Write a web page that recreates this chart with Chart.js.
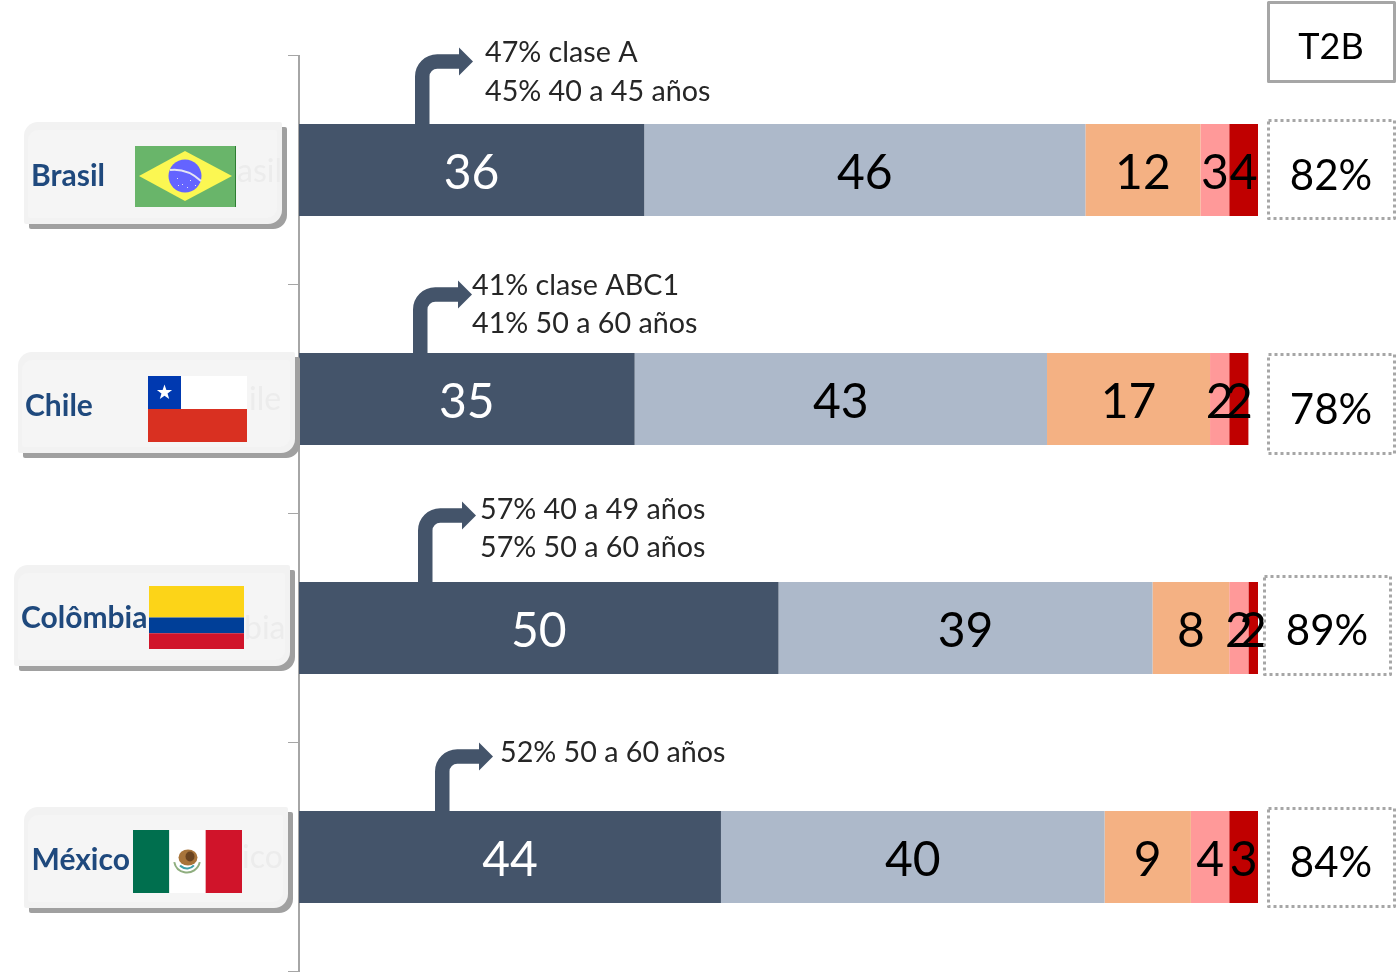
<!DOCTYPE html>
<html>
<head>
<meta charset="utf-8">
<style>html,body{margin:0;padding:0;background:#fff;overflow:hidden}canvas{display:block}</style>
<script src="https://cdn.jsdelivr.net/npm/chart.js@4"></script>
</head>
<body>
<canvas id="c" width="1396" height="972"></canvas>
<script>
// ---- data ----
const countries = ['Brasil', 'Chile', 'Colômbia', 'México'];
const seriesA = [36, 35, 50, 44];
const seriesB = [46, 43, 39, 40];
const seriesC = [12, 17, 8, 9];
const seriesD = [3, 2, 2, 4];
const seriesE = [3, 2, 1, 3];
const labelsA = ['36', '35', '50', '44'];
const labelsB = ['46', '43', '39', '40'];
const labelsC = ['12', '17', '8', '9'];
const labelsD = ['3', '2', '2', '4'];
const labelsE = ['4', '2', '2', '3'];
const t2bTitle = 'T2B';
const t2bValues = ['82%', '78%', '89%', '84%'];
const notes = [
  ['47% clase A', '45% 40 a 45 años'],
  ['41% clase ABC1', '41% 50 a 60 años'],
  ['57% 40 a 49 años', '57% 50 a 60 años'],
  ['52% 50 a 60 años']
];
const ghostText = ['asil', 'ile', 'bia', 'ico'];

// ---- layout and style of the decorations ----
const colors = ['#44546a', '#adb9ca', '#f4b183', '#ff9999', '#c00000'];
const textColors = ['#ffffff', '#000000', '#000000', '#000000', '#000000'];
const FONT = 'Lato, Carlito, Calibri, sans-serif';
const cardBoxes = [
  {x:24,y:122,w:258,h:102,tx:31,ty:186,gx:237,gy:182,flag:[135,146,101,61]},
  {x:18,y:352,w:277,h:101,tx:25,ty:416,gx:249,gy:410,flag:[148,376,99,66]},
  {x:14,y:565,w:276,h:101,tx:21,ty:628,gx:244,gy:639,flag:[149,586,95,63]},
  {x:24,y:807,w:264,h:101,tx:31.5,ty:870,gx:242,gy:868,flag:[133,830,109,63]}
];
const arrowBoxes = [
  {x:415,y:61.5,tip:473,tx:485,ty:[62,101]},
  {x:413,y:294.5,tip:472,tx:472,ty:[295,333]},
  {x:418,y:515.5,tip:476,tx:480,ty:[519,557]},
  {x:435,y:756.5,tip:493,tx:500,ty:[762]}
];
const t2bBoxes = [
  {x:1268.5,y:120.5,w:126,h:98,cx:1331,by:189.5},
  {x:1268.5,y:354.5,w:126,h:99,cx:1331,by:424},
  {x:1264.5,y:576.5,w:126,h:98,cx:1327,by:645},
  {x:1268.5,y:808.5,w:126,h:98,cx:1331,by:877}
];

function drawStar(ctx, cx, cy, r) {
  ctx.beginPath();
  for (let i = 0; i < 10; i++) {
    const a = -Math.PI / 2 + i * Math.PI / 5;
    const q = i % 2 ? r * 0.4 : r;
    ctx.lineTo(cx + q * Math.cos(a), cy + q * Math.sin(a));
  }
  ctx.closePath();
  ctx.fill();
}
function flagBrazil(ctx, x, y, w, h) {
  ctx.fillStyle = '#69b56a'; ctx.fillRect(x, y, w, h);
  ctx.fillStyle = '#2e7d32'; ctx.fillRect(x + w - 1, y, 1, h);
  ctx.fillStyle = '#fbf752';
  ctx.beginPath();
  ctx.moveTo(x + 4, y + h / 2 - 0.5); ctx.lineTo(x + 50, y + 5);
  ctx.lineTo(x + 97, y + h / 2 - 0.5); ctx.lineTo(x + 50, y + 55);
  ctx.closePath(); ctx.fill();
  ctx.fillStyle = '#6464ff';
  ctx.beginPath(); ctx.arc(x + 50, y + 30, 16.5, 0, Math.PI * 2); ctx.fill();
  ctx.strokeStyle = '#e4e4f4'; ctx.lineWidth = 2;
  ctx.beginPath(); ctx.moveTo(x + 35, y + 24); ctx.quadraticCurveTo(x + 52, y + 22, x + 66, y + 35); ctx.stroke();
  ctx.fillStyle = '#e4e4f4';
  [[42, 32], [47, 38], [55, 34], [52, 41], [60, 39], [43, 39]].forEach(p => ctx.fillRect(x + p[0], y + p[1], 1, 1));
}
function flagChile(ctx, x, y, w, h) {
  ctx.fillStyle = '#ffffff'; ctx.fillRect(x, y, w, h / 2);
  ctx.fillStyle = '#d93021'; ctx.fillRect(x, y + h / 2, w, h / 2);
  ctx.fillStyle = '#0039b0'; ctx.fillRect(x, y, h / 2, h / 2);
  ctx.fillStyle = '#ffffff'; drawStar(ctx, x + h / 4, y + h / 4, 8);
}
function flagColombia(ctx, x, y, w, h) {
  ctx.fillStyle = '#fcd418'; ctx.fillRect(x, y, w, h / 2);
  ctx.fillStyle = '#003f98'; ctx.fillRect(x, y + h / 2, w, h / 4);
  ctx.fillStyle = '#d0142a'; ctx.fillRect(x, y + h * 3 / 4, w, h / 4);
}
function flagMexico(ctx, x, y, w, h) {
  ctx.fillStyle = '#006f4e'; ctx.fillRect(x, y, w / 3, h);
  ctx.fillStyle = '#ffffff'; ctx.fillRect(x + w / 3, y, w / 3, h);
  ctx.fillStyle = '#d0142a'; ctx.fillRect(x + w * 2 / 3, y, w / 3, h);
  const cx = x + w / 2 - 0.5, cy = y + h / 2;
  ctx.strokeStyle = '#8fae7f'; ctx.lineWidth = 2;
  ctx.beginPath(); ctx.arc(cx, cy - 2, 13, 0.2, Math.PI - 0.2); ctx.stroke();
  ctx.strokeStyle = '#3f9fa8'; ctx.lineWidth = 2;
  ctx.beginPath(); ctx.arc(cx, cy - 2, 9, 0.7, Math.PI - 0.7); ctx.stroke();
  ctx.fillStyle = '#a8743a';
  ctx.beginPath(); ctx.ellipse(cx + 1, cy - 4, 9.5, 8, 0, 0, Math.PI * 2); ctx.fill();
  ctx.fillStyle = '#6b4420';
  ctx.beginPath(); ctx.ellipse(cx + 3, cy - 5, 4.5, 5, 0, 0, Math.PI * 2); ctx.fill();
}
const flagPainters = [flagBrazil, flagChile, flagColombia, flagMexico];

const decorations = {
  id: 'decorations',
  afterDatasetsDraw(chart) {
    const ctx = chart.ctx;
    ctx.save();
    ctx.textAlign = 'center';
    ctx.textBaseline = 'alphabetic';
    // value labels on the segments
    const allLabels = [labelsA, labelsB, labelsC, labelsD, labelsE];
    chart.data.datasets.forEach((ds, di) => {
      chart.getDatasetMeta(di).data.forEach((bar, i) => {
        ctx.font = '48px ' + FONT;
        ctx.fillStyle = textColors[di];
        ctx.fillText(allLabels[di][i], bar.getCenterPoint().x, bar.y + 19);
      });
    });
    // arrows and notes
    const first = chart.getDatasetMeta(0).data;
    arrowBoxes.forEach((a, i) => {
      const barTop = first[i].y - first[i].height / 2;
      const half = 7.25, sx = a.x + half, headBase = a.tip - 14;
      ctx.strokeStyle = colors[0];
      ctx.lineWidth = half * 2;
      ctx.lineJoin = 'round';
      ctx.beginPath();
      ctx.moveTo(sx, barTop + 1);
      ctx.lineTo(sx, a.y + 15);
      ctx.arcTo(sx, a.y, sx + 15, a.y, 15);
      ctx.lineTo(headBase + 1, a.y);
      ctx.stroke();
      ctx.fillStyle = colors[0];
      ctx.beginPath();
      ctx.moveTo(headBase, a.y - 14);
      ctx.lineTo(a.tip, a.y);
      ctx.lineTo(headBase, a.y + 14);
      ctx.closePath();
      ctx.fill();
      ctx.textAlign = 'left';
      ctx.font = '28.7px ' + FONT;
      ctx.fillStyle = '#262626';
      notes[i].forEach((line, k) => ctx.fillText(line, a.tx, a.ty[k]));
    });
    // country cards
    countries.forEach((name, i) => {
      const c = cardBoxes[i];
      ctx.fillStyle = '#a0a0a0';
      ctx.beginPath(); ctx.roundRect(c.x + 5, c.y + 5, c.w, c.h, [14, 2, 14, 2]); ctx.fill();
      ctx.fillStyle = '#f2f2f2';
      ctx.beginPath(); ctx.roundRect(c.x, c.y, c.w, c.h, [14, 2, 14, 2]); ctx.fill();
      ctx.fillStyle = '#f5f5f5';
      ctx.beginPath(); ctx.roundRect(c.x + 4, c.y + 8, c.w - 9, c.h - 14, [10, 2, 10, 2]); ctx.fill();
      ctx.textAlign = 'left';
      ctx.font = '32px ' + FONT;
      ctx.fillStyle = '#ececec';
      ctx.fillText(ghostText[i], c.gx, c.gy);
      const f = c.flag;
      flagPainters[i](ctx, f[0], f[1], f[2], f[3]);
      ctx.font = 'bold 30px ' + FONT;
      ctx.fillStyle = '#1f497d';
      ctx.fillText(name, c.tx, c.ty);
    });
    // T2B column
    ctx.textAlign = 'center';
    ctx.strokeStyle = '#a6a6a6';
    ctx.lineWidth = 3;
    ctx.strokeRect(1268.5, 2.5, 126, 79);
    ctx.font = '36px ' + FONT;
    ctx.fillStyle = '#000000';
    ctx.fillText(t2bTitle, 1331, 59);
    t2bValues.forEach((v, i) => {
      const b = t2bBoxes[i];
      ctx.setLineDash([3, 3]);
      ctx.strokeRect(b.x, b.y, b.w, b.h);
      ctx.setLineDash([]);
      ctx.font = '42px ' + FONT;
      ctx.fillStyle = '#000000';
      ctx.fillText(v, b.cx, b.by);
    });
    ctx.restore();
  }
};

const allSeries = [seriesA, seriesB, seriesC, seriesD, seriesE];
new Chart(document.getElementById('c'), {
  type: 'bar',
  data: {
    labels: countries,
    datasets: allSeries.map((values, i) => ({
      data: values,
      backgroundColor: colors[i],
      borderWidth: 0,
      categoryPercentage: 1,
      barPercentage: 92 / 229
    }))
  },
  options: {
    indexAxis: 'y',
    responsive: false,
    animation: false,
    layout: { padding: { left: 288, right: 138, top: 55.5, bottom: 0.5 } },
    plugins: { legend: { display: false }, tooltip: { enabled: false }, title: { display: false } },
    scales: {
      x: { stacked: true, min: 0, max: 100, display: false },
      y: {
        stacked: true,
        afterFit(scale) { scale.width = 11; },
        ticks: { display: false },
        grid: { drawOnChartArea: false, drawTicks: true, tickLength: 11, color: '#a6a6a6', lineWidth: 1 },
        border: { display: true, color: '#a6a6a6', width: 2 }
      }
    }
  },
  plugins: [decorations]
});
</script>
</body>
</html>
